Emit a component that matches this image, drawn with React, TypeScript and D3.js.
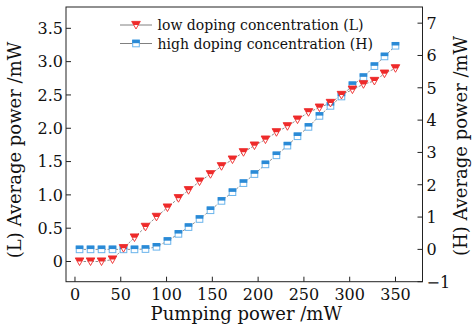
import React from "react";
import * as d3 from "d3";

const pumpPower = [5, 17, 29, 41, 53, 65, 77, 89, 101, 113, 124, 136, 148, 160, 172, 184, 196, 208, 220, 232, 243, 255, 267, 279, 291, 303, 315, 327, 338, 350];
const lowDoping = [0, 0, 0, 0.03, 0.2, 0.36, 0.52, 0.67, 0.81, 0.95, 1.07, 1.2, 1.31, 1.43, 1.53, 1.64, 1.74, 1.83, 1.94, 2.03, 2.13, 2.24, 2.31, 2.38, 2.5, 2.58, 2.66, 2.71, 2.82, 2.9];
const highDoping = [0, 0, 0, 0, 0, 0, 0.01, 0.08, 0.26, 0.48, 0.69, 0.94, 1.21, 1.5, 1.77, 2.05, 2.33, 2.63, 2.91, 3.21, 3.5, 3.79, 4.13, 4.44, 4.73, 5.08, 5.33, 5.67, 5.97, 6.3];
const xTicks = [0, 50, 100, 150, 200, 250, 300, 350];
const leftTicks = [0, 0.5, 1.0, 1.5, 2.0, 2.5, 3.0, 3.5];
const rightTicks = [-1, 0, 1, 2, 3, 4, 5, 6, 7];
const legendLabels = ["low doping concentration (L)", "high doping concentration (H)"];
const xTitle = "Pumping power /mW";
const leftTitle = "(L) Average power /mW";
const rightTitle = "(H) Average power /mW";

const W = 472, H = 327;
const L = 66, R = 422.5, T = 7, B = 281.7;
const FONT = "'DejaVu Serif', serif";
const RED = "#ee2a2a";
const BLUE = "#2a8ad6";
const BLUE_LIGHT = "#6ab4ec";

function TriDown({ cx, cy }: { cx: number; cy: number }) {
  const hw = 4.3, top = cy - 3.6, bot = cy + 4.0;
  const mid = cy + 0.1;
  const mhw = hw * (bot - mid) / (bot - top);
  return (
    <g>
      <polygon points={`${cx - hw},${top} ${cx + hw},${top} ${cx},${bot}`} fill="#fff" stroke={RED} strokeWidth={0.9} strokeLinejoin="miter" />
      <polygon points={`${cx - hw},${top} ${cx + hw},${top} ${cx + mhw},${mid} ${cx - mhw},${mid}`} fill={RED} />
    </g>
  );
}

function Sq({ cx, cy }: { cx: number; cy: number }) {
  const s = 3.3;
  return (
    <g>
      <rect x={cx - s} y={cy - s} width={2 * s} height={2 * s} fill="#fff" stroke={BLUE_LIGHT} strokeWidth={1} />
      <rect x={cx - s - 0.5} y={cy - s - 0.5} width={2 * s + 1} height={s + 0.2} fill={BLUE} />
    </g>
  );
}

export default function App() {
  const x = d3.scaleLinear().domain([-9.8, 379.5]).range([L, R]);
  const yL = d3.scaleLinear().domain([-0.303, 3.82]).range([B, T]);
  const yR = d3.scaleLinear().domain([-1, 7.5]).range([B, T]);

  const lineL = d3.line<number>().x((_, i) => x(pumpPower[i])).y((d) => yL(d));
  const lineR = d3.line<number>().x((_, i) => x(pumpPower[i])).y((d) => yR(d));

  return (
    <svg width={W} height={H} style={{ position: "absolute", left: 0, top: 0, background: "#fff" }} fontFamily={FONT}>
      <rect x={0} y={0} width={W} height={H} fill="#fff" />
      <path d={lineL(lowDoping) || ""} fill="none" stroke="#808080" strokeWidth={0.9} strokeDasharray="2.5,1.5" />
      <path d={lineR(highDoping) || ""} fill="none" stroke="#808080" strokeWidth={0.9} strokeDasharray="2.5,1.5" />
      {highDoping.map((v, i) => (
        <Sq key={"h" + i} cx={x(pumpPower[i])} cy={yR(v)} />
      ))}
      {lowDoping.map((v, i) => (
        <TriDown key={"l" + i} cx={x(pumpPower[i])} cy={yL(v)} />
      ))}

      <rect x={L} y={T} width={R - L} height={B - T} fill="none" stroke="#222" strokeWidth={1} />

      {xTicks.map((t) => (
        <g key={"x" + t}>
          <line x1={x(t)} x2={x(t)} y1={B} y2={B - 5} stroke="#222" strokeWidth={1} />
          <text x={x(t)} y={300} textAnchor="middle" fontSize={16} fill="#111">{t}</text>
        </g>
      ))}
      {leftTicks.map((t) => (
        <g key={"l" + t}>
          <line x1={L} x2={L + 5} y1={yL(t)} y2={yL(t)} stroke="#222" strokeWidth={1} />
          <text x={L - 3} y={yL(t) + 5.8} textAnchor="end" fontSize={16} fill="#111">{t === 0 ? "0" : t.toFixed(1)}</text>
        </g>
      ))}
      {rightTicks.map((t) => (
        <g key={"r" + t}>
          <line x1={R} x2={R - 5} y1={yR(t)} y2={yR(t)} stroke="#222" strokeWidth={1} />
          <text x={R + 4} y={yR(t) + 5.8} textAnchor="start" fontSize={16} fill="#111">{t < 0 ? "\u2212" + Math.abs(t) : String(t)}</text>
        </g>
      ))}

      <text x={(L + R) / 2 + 2} y={320} textAnchor="middle" fontSize={18} fill="#111">{xTitle}</text>
      <text transform={`translate(21,150) rotate(-90)`} textAnchor="middle" fontSize={18} fill="#111">{leftTitle}</text>
      <text transform={`translate(467,146) rotate(-90)`} textAnchor="middle" fontSize={18} fill="#111">{rightTitle}</text>

      <g>
        <line x1={120} x2={152} y1={25} y2={25} stroke="#808080" strokeWidth={1} />
        <TriDown cx={136} cy={25} />
        <text x={157.5} y={30} fontSize={14} fill="#111">{legendLabels[0]}</text>
        <line x1={120} x2={152} y1={43.5} y2={43.5} stroke="#808080" strokeWidth={1} />
        <Sq cx={136} cy={43.5} />
        <text x={157.5} y={48.5} fontSize={14} fill="#111">{legendLabels[1]}</text>
      </g>
    </svg>
  );
}
